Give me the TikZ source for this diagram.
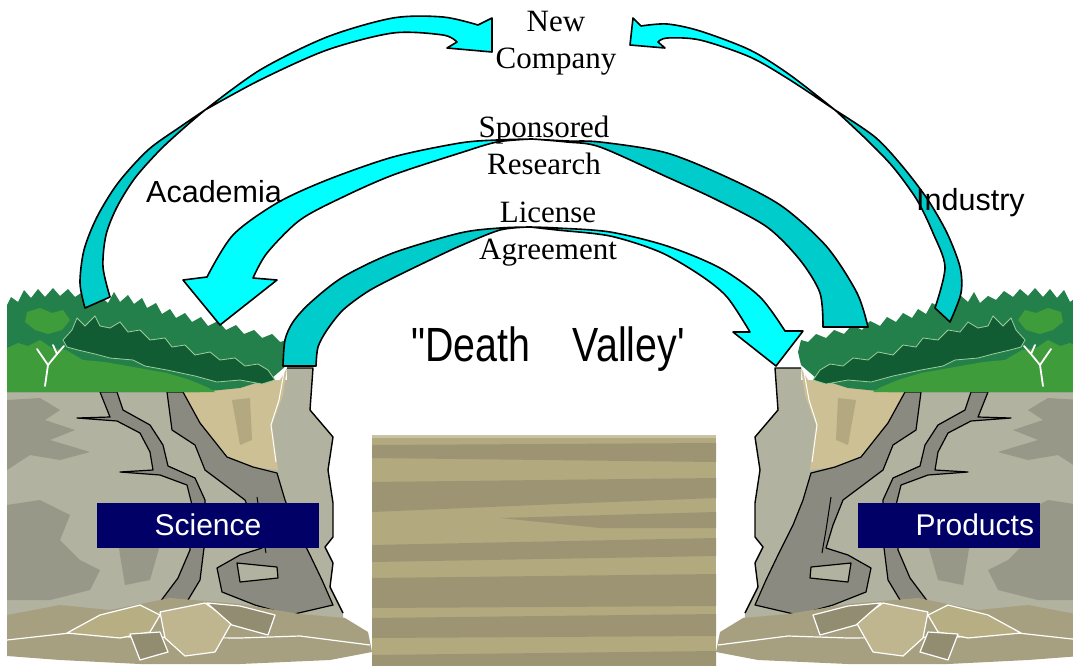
\documentclass[tikz,border=0pt]{standalone}
\usepackage{fontspec}
\setmainfont{Liberation Serif}
\setsansfont{Liberation Sans}
\newfontfamily\valleyfont{Liberation Sans}[Ligatures=TeXOff]
\usepackage{tikz}
\tikzset{>=latex}

\definecolor{arrowcyan}{RGB}{0,255,255}
\definecolor{arrowteal}{RGB}{0,204,204}
\definecolor{boxblue}{RGB}{0,0,102}
\definecolor{leafmid}{RGB}{36,128,74}
\definecolor{leaflight}{RGB}{62,156,58}
\definecolor{leafdark}{RGB}{18,92,52}
\definecolor{rocklight}{RGB}{178,178,160}
\definecolor{rockshade}{RGB}{152,152,136}
\definecolor{crevice}{RGB}{138,138,128}
\definecolor{tanface}{RGB}{204,192,148}
\definecolor{tandark}{RGB}{180,168,128}
\definecolor{rubble}{RGB}{166,160,128}
\definecolor{stonelight}{RGB}{184,174,132}
\definecolor{stonedark}{RGB}{146,140,112}
\definecolor{floorlight}{RGB}{178,169,127}
\definecolor{floordark}{RGB}{157,148,116}

\tikzset{
  ribbon/.style={draw=black, line width=1.6pt, line join=round},
  front/.style={ribbon, fill=arrowcyan},
  back/.style={ribbon, fill=arrowteal},
  crack/.style={draw=black, line width=1.2pt, fill=crevice, line join=round},
  stone/.style={draw=white, line width=1.2pt, line join=round},
  caption/.style={font=\fontsize{31}{37}\selectfont, align=center, inner sep=0pt},
  side/.style={font=\sffamily\fontsize{30.5}{30}\selectfont, inner sep=0pt},
  labelbox/.style={fill=boxblue, text=white, font=\sffamily\fontsize{30}{30}\selectfont,
    minimum height=45pt, inner xsep=6pt},
}

\begin{document}
\begin{tikzpicture}[x=1pt, y=-1pt]

  \fill[white] (0,0) rectangle (1073,666);
  \useasboundingbox (0,0) rectangle (1073,666);

  % Valley floor
  \fill[floorlight] (372,435) rectangle (716,666);
  \fill[floorlight!70!white] (372,435) rectangle (716,438);
  \fill[floordark] (372,445) -- (716,443) -- (716,462) -- (372,458) -- cycle;
  \fill[floordark] (372,482) -- (716,478) -- (716,498) -- (560,504) -- (372,512) -- cycle;
  \fill[floordark] (500,518) -- (716,512) -- (716,528) -- (600,528) -- cycle;
  \fill[floordark] (372,545) -- (716,538) -- (716,556) -- (372,562) -- cycle;
  \fill[floordark] (372,578) -- (716,574) -- (716,606) -- (372,608) -- cycle;
  \fill[floordark] (372,618) -- (716,614) -- (716,636) -- (372,638) -- cycle;
  \fill[floordark] (372,655) -- (716,651) -- (716,666) -- (372,666) -- cycle;

  % Cliffs (left one, then its mirror image)
  \foreach \sx/\dx in {1/0,-1/1088}{
  \begin{scope}[xshift=\dx pt, xscale=\sx]
    \fill[rocklight] (7,388) -- (287,380) -- (287,368) -- (313,368) -- (310,410) -- (333,437)
      -- (328,470) -- (333,503) -- (333,537) -- (325,547) -- (333,563) -- (330,587)
      -- (343,613) -- (345,645) -- (7,645) -- cycle;
    \fill[rockshade] (7,400) -- (40,398) -- (60,410) -- (45,420) -- (75,430) -- (50,440)
      -- (90,452) -- (60,460) -- (30,455) -- (7,470) -- cycle;
    \fill[rockshade] (7,505) -- (40,500) -- (70,515) -- (60,540) -- (80,560) -- (100,570)
      -- (90,590) -- (50,600) -- (7,600) -- cycle;
    \fill[rockshade] (115,520) -- (150,515) -- (160,545) -- (150,580) -- (125,585) -- (120,555) -- cycle;
    \fill[tanface] (183,392) -- (280,380) -- (287,368) -- (283,395) -- (272,425) -- (278,470)
      -- (253,467) -- (227,457) -- (200,423) -- cycle;
    \fill[tandark] (232,400) -- (250,398) -- (252,440) -- (240,445) -- cycle;
    \draw[white, line width=1pt] (284,372) -- (279,400) -- (271,425) -- (276,462);
    \filldraw[crack] (100,392) -- (110,417) -- (77,418) -- (117,421) -- (140,433) -- (150,452)
      -- (153,470) -- (120,472) -- (160,475) -- (187,485) -- (192,505) -- (190,550)
      -- (178,578) -- (160,602) -- (185,605) -- (200,580) -- (205,540) -- (205,500)
      -- (195,478) -- (168,466) -- (163,445) -- (150,425) -- (123,410) -- (117,392) -- cycle;
    \filldraw[crack] (167,392) -- (183,392) -- (200,423) -- (227,457) -- (253,467) -- (277,473)
      -- (285,500) -- (295,525) -- (310,555) -- (322,580) -- (333,605) -- (290,615)
      -- (255,605) -- (222,592) -- (217,568) -- (240,555) -- (262,548) -- (255,525)
      -- (245,500) -- (225,485) -- (205,470) -- (195,445) -- (172,430) -- cycle;
    \filldraw[crack, fill=rocklight] (237,563) -- (277,567) -- (278,578) -- (240,582) -- cycle;
    \draw[line width=1pt] (257,497) -- (262,530) -- (266,553);
    \draw[line width=1.4pt, line join=round] (287,368) -- (313,368) -- (310,410) -- (333,437)
      -- (328,470) -- (333,503) -- (333,537) -- (325,547) -- (333,563) -- (330,587) -- (343,613);
    % rubble
    \fill[rubble] (7,615) -- (60,605) -- (110,610) -- (170,598) -- (240,604) -- (300,614)
      -- (345,618) -- (368,632) -- (372,652) -- (330,660) -- (240,664) -- (140,664)
      -- (60,660) -- (7,656) -- cycle;
    \draw[stone] (7,640) -- (70,633) -- (130,637) -- (240,638) -- (300,636) -- (370,645);
    \filldraw[stone, fill=stonelight] (67,633) -- (100,615) -- (140,605) -- (160,615) -- (150,632) -- (120,638) -- cycle;
    \filldraw[stone, fill=stonelight!90!white] (160,612) -- (205,603) -- (232,622) -- (215,652) -- (185,656) -- (165,638) -- cycle;
    \filldraw[stone, fill=stonedark] (130,634) -- (160,632) -- (168,652) -- (140,660) -- cycle;
    \filldraw[stone, fill=stonedark] (207,603) -- (240,606) -- (275,615) -- (268,635) -- (232,625) -- cycle;
    % foliage
    \fill[leafmid] (7,392) -- (7,305) -- (11,297) -- (18,302) -- (24,290) -- (31,298) -- (38,289)
      -- (45,297) -- (53,288) -- (60,296) -- (68,289) -- (75,297) -- (84,291) -- (92,300)
      -- (100,296) -- (108,303) -- (114,292) -- (120,302) -- (128,295) -- (134,304)
      -- (142,298) -- (147,308) -- (156,303) -- (162,314) -- (170,309) -- (176,318)
      -- (185,313) -- (192,322) -- (201,317) -- (208,326) -- (218,321) -- (226,330)
      -- (236,325) -- (244,334) -- (254,330) -- (262,338) -- (272,334) -- (280,342)
      -- (287,340) -- (290,352) -- (287,365) -- (272,378) -- (240,388) -- (200,392) -- cycle;
    \fill[leaflight] (7,392) -- (7,348) -- (18,343) -- (28,346) -- (40,340) -- (52,348) -- (66,350)
      -- (83,360) -- (105,362) -- (133,367) -- (150,370) -- (167,373) -- (190,380)
      -- (207,387) -- (215,392) -- cycle;
    \fill[leaflight] (27,312) -- (40,308) -- (52,313) -- (63,310) -- (70,320) -- (62,330)
      -- (48,334) -- (35,330) -- (25,322) -- cycle;
    \filldraw[fill=leafdark, draw=leaflight!50!white, line width=0.8pt] (63,340) -- (72,330)
      -- (77,318) -- (85,326) -- (95,316) -- (100,326) -- (110,328) -- (120,322) -- (128,332)
      -- (140,330) -- (150,340) -- (165,338) -- (172,347) -- (185,345) -- (195,355)
      -- (210,352) -- (220,360) -- (235,358) -- (245,366) -- (258,364) -- (268,370)
      -- (275,380) -- (262,384) -- (240,380) -- (217,382) -- (195,376) -- (167,370)
      -- (145,366) -- (133,360) -- (110,358) -- (95,354) -- (78,350) -- (67,347) -- cycle;
    \draw[white, line width=1.8pt, line cap=round] (45,386) -- (48,365) -- (37,349)
      (48,365) -- (57,354) -- (64,346) (57,354) -- (53,345);
  \end{scope}
  }

  % Arrows
  \filldraw[back] plot[smooth] coordinates {(85,308) (80,283) (84,250) (97,217) (118,183) (148,150) (180,127) (205,110)}
    -- plot[smooth] coordinates {(205,110) (185,127) (160,150) (135,178) (117,207) (106,235) (103,267) (110,297)} -- cycle;
  \filldraw[front] plot[smooth] coordinates {(205,110) (260,70) (327,37) (393,18) (443,17) (478,25)}
    -- (492,18) -- (492,52) -- (447,48)
    -- plot[smooth] coordinates {(457,42) (443,35) (393,33) (327,50) (260,80) (205,110)} -- cycle;

  \filldraw[back] plot[smooth] coordinates {(835,110) (867,140) (893,167) (917,200) (933,233) (945,267) (935,308)}
    -- plot[smooth] coordinates {(950,322) (961,293) (960,267) (947,233) (928,200) (903,167) (875,137) (835,110)} -- cycle;
  \filldraw[front] plot[smooth] coordinates {(835,110) (790,75) (750,50) (700,31) (667,24) (641,26)}
    -- (633,18) -- (630,45) -- (665,48)
    -- plot[smooth] coordinates {(658,42) (667,38) (700,40) (750,57) (790,80) (835,110)} -- cycle;

  \filldraw[back] plot[smooth] coordinates {(532,139) (567,141) (600,142) (667,153) (733,180) (783,207) (827,247) (857,293) (868,327)}
    -- plot[smooth] coordinates {(823,327) (820,293) (800,260) (767,227) (717,200) (667,177) (600,147) (567,142) (532,139)} -- cycle;
  \filldraw[front] plot[smooth] coordinates {(532,139) (497,140) (460,143) (393,157) (327,180) (277,203) (233,235) (207,277)}
    -- (183,280) -- (220,325) -- (277,280)
    -- plot[smooth] coordinates {(253,278) (267,253) (300,220) (343,197) (393,175) (460,153) (497,142) (532,139)} -- cycle;

  \filldraw[back] plot[smooth] coordinates {(283,366) (285,340) (293,322) (310,303) (343,277) (393,253) (460,233) (500,228) (530,227)}
    -- plot[smooth] coordinates {(530,227) (500,230) (460,246) (430,260) (393,278) (367,292) (343,310) (327,330) (318,347) (316,366)} -- cycle;
  \filldraw[front] plot[smooth] coordinates {(530,227) (557,228) (610,232) (667,246) (720,268) (760,297) (785,331)}
    -- (803,331) -- (776,366) -- (733,332)
    -- plot[smooth] coordinates {(750,332) (727,297) (700,275) (660,252) (610,236) (557,230) (530,227)} -- cycle;

  % Labels
  \node[caption] (newco) at (556,43) {New\\Company};
  \node[caption] (sponsored) at (544,145) {Sponsored\\Research};
  \node[caption] (license) at (548,234) {License\\Agreement};
  \node[side, anchor=base west] (academia) at (146,202) {Academia};
  \node[side, anchor=base west] (industry) at (916,210) {Industry};
  \node[font=\valleyfont\fontsize{48}{48}\selectfont, xscale=0.82, anchor=base] (valley)
    at (548,361) {"Death\hspace{52pt}Valley'};
  \node[labelbox, minimum width=222pt] (science) at (208,525) {Science};
  \node[labelbox, text width=170pt, align=right] (products) at (949,525) {Products};

\end{tikzpicture}
\end{document}
